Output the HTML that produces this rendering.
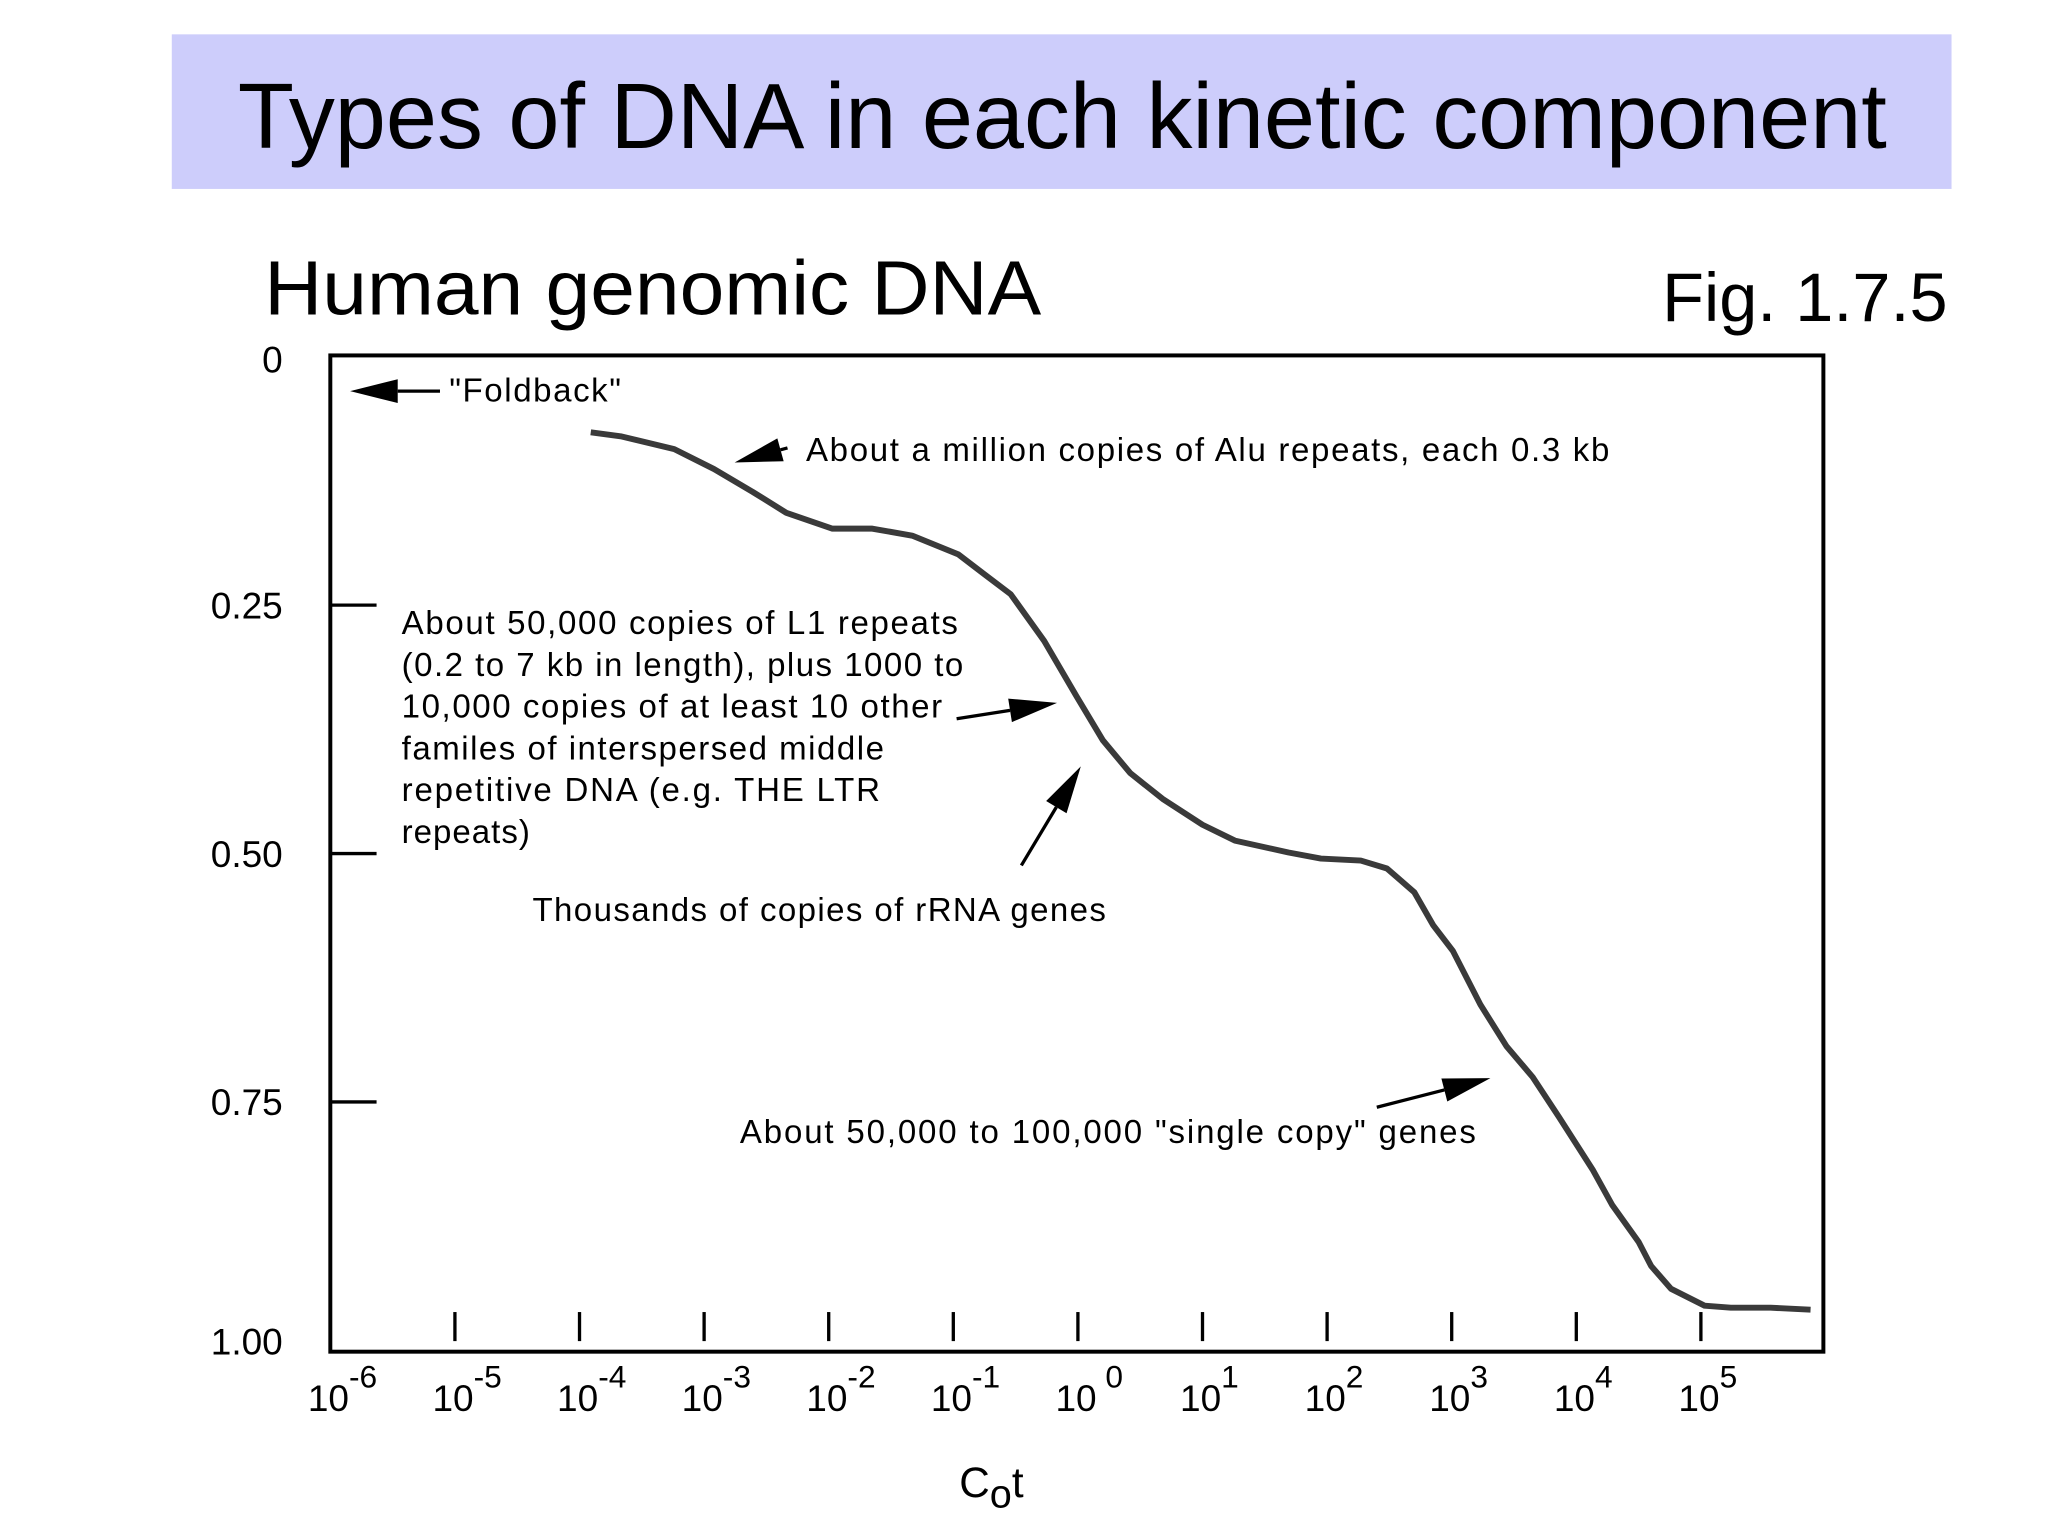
<!DOCTYPE html>
<html><head><meta charset="utf-8"><style>
html,body{margin:0;padding:0;background:#fff;}
svg{display:block;font-family:"Liberation Sans",Arial,sans-serif;}
</style></head><body>
<svg id="chart" width="2048" height="1536" viewBox="0 0 1550 1162.5" xmlns="http://www.w3.org/2000/svg">
<rect x="130" y="26" width="1347" height="117" fill="#cdcdfb"/>
<text x="180" y="112" font-size="70" textLength="1248" lengthAdjust="spacingAndGlyphs" fill="#000">Types of DNA in each kinetic component</text>
<text x="200" y="238" font-size="58" textLength="588" lengthAdjust="spacingAndGlyphs" fill="#000">Human genomic DNA</text>
<text x="1258" y="243" font-size="52" textLength="216" lengthAdjust="spacingAndGlyphs" fill="#000">Fig. 1.7.5</text>
<g id="axes"></g>
<g id="annot" font-size="25" fill="#000">
<text x="340" y="304" textLength="130">"Foldback"</text>
<text x="610" y="349" textLength="608">About a million copies of Alu repeats, each 0.3 kb</text>
<text x="304" y="480">
<tspan x="304" dy="0" textLength="421">About 50,000 copies of L1 repeats</tspan>
<tspan x="304" dy="31.6" textLength="425">(0.2 to 7 kb in length), plus 1000 to</tspan>
<tspan x="304" dy="31.6" textLength="409">10,000 copies of at least 10 other</tspan>
<tspan x="304" dy="31.6" textLength="365">familes of interspersed middle</tspan>
<tspan x="304" dy="31.6" textLength="362">repetitive DNA (e.g. THE LTR</tspan>
<tspan x="304" dy="31.6" textLength="97">repeats)</tspan></text>
<text x="403" y="697" textLength="434">Thousands of copies of rRNA genes</text>
<text x="560" y="865" textLength="557">About 50,000 to 100,000 "single copy" genes</text>
</g>
<text x="726" y="1133" font-size="32">C<tspan font-size="30" dy="8">o</tspan><tspan dy="-8">t</tspan></text>
</svg>
<script>
const logCot = [-3.91,-3.67,-3.24,-2.92,-2.61,-2.34,-1.97,-1.65,-1.33,-0.96,-0.75,-0.54,-0.27,-0.01,0.20,0.42,0.68,1.00,1.26,1.69,1.95,2.27,2.48,2.70,2.85,3.01,3.23,3.44,3.65,3.86,4.13,4.29,4.50,4.60,4.76,5.03,5.24,5.56,5.88];
const fraction = [0.076,0.080,0.093,0.113,0.136,0.157,0.173,0.173,0.180,0.199,0.219,0.239,0.286,0.342,0.386,0.419,0.445,0.471,0.487,0.499,0.505,0.507,0.515,0.539,0.572,0.598,0.652,0.694,0.725,0.765,0.818,0.854,0.891,0.915,0.938,0.955,0.957,0.957,0.959];
const xExps = [-6,-5,-4,-3,-2,-1,0,1,2,3,4,5];
const yTicks = [0,0.25,0.5,0.75,1.0];
const yLabels = ["0","0.25","0.50","0.75","1.00"];
const NS="http://www.w3.org/2000/svg";
const X = e => 250 + (e+6)*94.3;
const Y = v => 270 + v*752;
const g = document.getElementById('axes');
function mk(t,a,p){const el=document.createElementNS(NS,t);for(const k in a)el.setAttribute(k,a[k]);(p||g).appendChild(el);return el;}
let f=mk('rect',{x:250,y:269,width:1130,height:754,fill:'none',stroke:'#000','stroke-width':3});


yTicks.forEach((v,i)=>{
  if(v>0&&v<1){const t=mk('line',{x1:250,x2:285,y1:Y(v),y2:Y(v),stroke:'#000','stroke-width':2.5});
  
  }
  const tx=mk('text',{x:214,y:Y(v)+(i==0?12:(i==4?3:10)),'font-size':28,'text-anchor':'end'});
  tx.textContent=yLabels[i];
  
  
});
xExps.forEach(e=>{
  if(e>-6){const t=mk('line',{x1:X(e),x2:X(e),y1:993,y2:1015,stroke:'#000','stroke-width':2.5});
  
  }
  const tx=mk('text',{x:X(e)-17,y:1068,'font-size':28});
  
  
  tx.appendChild(document.createTextNode('10'));
  const s=mk('tspan',{dy:-18,'font-size':24},tx);
  s.textContent=(e===0?' 0':String(e));
});
const d=logCot.map((e,i)=>(i?'L':'M')+X(e).toFixed(1)+','+Y(fraction[i]).toFixed(1)).join(' ');
const c=mk('path',{d:d,fill:'none',stroke:'#3a3a3a','stroke-width':4.5,'stroke-linejoin':'round'});


function arrow(x1,y1,x2,y2,name){
  const a=Math.atan2(y2-y1,x2-x1),L=36,W=9;
  const bx=x2-L*Math.cos(a),by=y2-L*Math.sin(a);
  const l=mk('line',{x1:x1,y1:y1,x2:bx,y2:by,stroke:'#000','stroke-width':2.5});
  
  
  const p=mk('polygon',{points:`${x2},${y2} ${bx+W*Math.sin(a)},${by-W*Math.cos(a)} ${bx-W*Math.sin(a)},${by+W*Math.cos(a)}`,fill:'#000'});
  
  
}
arrow(333,296,265,296,'foldback-arrow');
arrow(596,339,556,350,'alu-arrow');
arrow(724,544,800,532,'l1-arrow');
arrow(773,655,818,580,'rrna-arrow');
arrow(1042,838,1128,816,'single-copy-arrow');
</script>
</body></html>
